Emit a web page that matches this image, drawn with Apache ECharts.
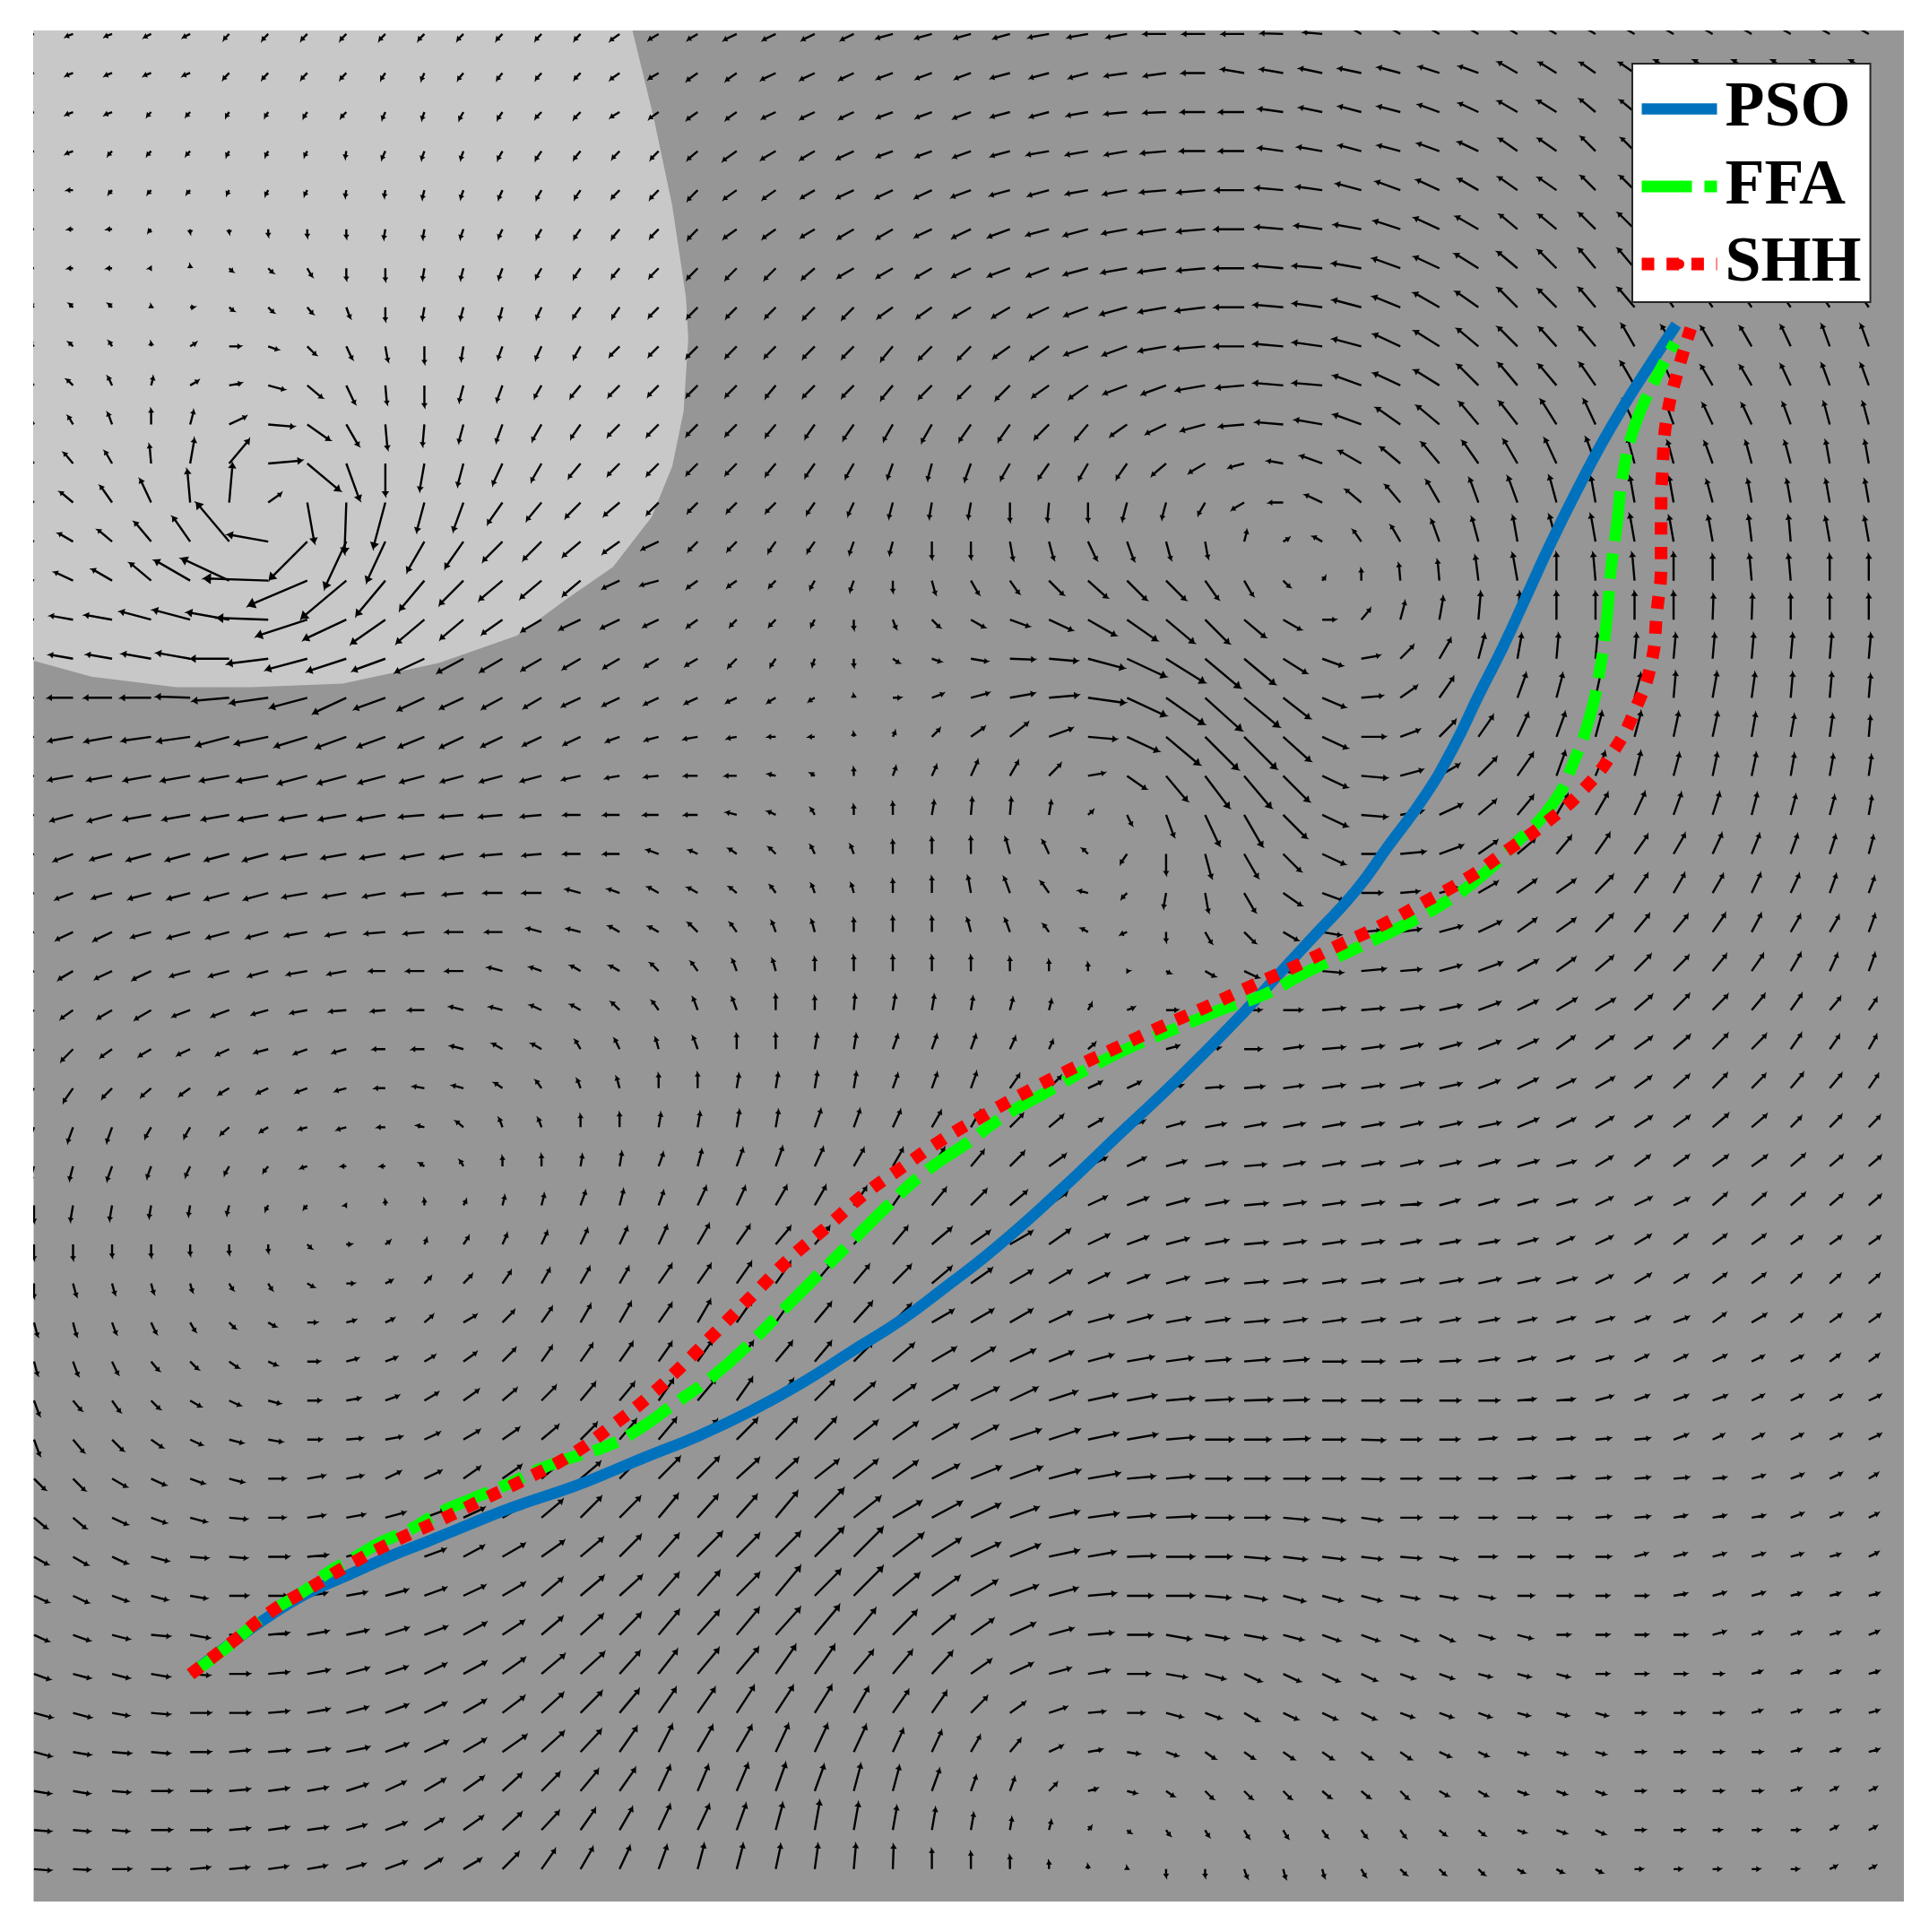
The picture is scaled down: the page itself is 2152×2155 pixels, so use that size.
<!DOCTYPE html>
<html>
<head>
<meta charset="utf-8">
<title>PSO FFA SHH</title>
<script src="https://cdn.jsdelivr.net/npm/echarts@6/dist/echarts.min.js"></script>
<style>html,body{margin:0;padding:0;background:#fff}</style>
</head>
<body>
<div id="main" style="width:2152px;height:2155px"></div>
<script>
// arrow direction in degrees (0 = right, 90 = up), one row per grid row, top row first
const arrowAngle = [
[200,200,200,205,205,225,225,225,225,225,225,225,225,225,225,215,210,210,205,205,205,205,195,195,195,195,190,190,190,180,180,180,178,175,150,150,150,150,150,150,150,150,150,150,150,150,150,150],
[200,200,200,200,200,225,225,225,225,235,245,230,230,228,225,215,210,215,215,205,205,205,200,200,200,195,195,195,188,188,180,170,170,168,168,165,162,160,150,148,145,145,145,145,145,145,145,145],
[200,200,200,225,225,235,235,235,225,245,250,240,235,225,225,210,215,215,215,205,205,205,200,200,200,195,195,190,185,182,180,180,172,168,165,165,160,155,150,148,140,140,135,135,135,135,135,135],
[200,200,225,225,225,240,240,240,260,245,250,250,240,235,230,225,225,220,215,210,210,205,200,200,200,195,190,190,190,185,180,180,172,170,165,165,160,155,145,145,135,135,135,135,135,135,135,135],
[180,180,225,225,225,240,240,240,260,260,255,250,245,240,235,225,225,225,215,215,210,205,205,205,200,195,195,190,190,185,185,180,175,172,165,160,155,150,145,145,135,135,135,135,135,135,135,135],
[180,180,180,225,270,270,270,270,270,260,260,250,245,240,235,230,225,225,215,215,210,210,210,205,205,200,195,195,190,188,185,180,175,172,170,162,155,150,140,140,135,135,130,130,130,130,130,130],
[180,180,180,180,90,315,315,300,270,270,260,255,250,240,235,230,225,225,225,225,220,210,210,210,205,200,200,195,190,188,185,180,175,175,170,160,155,148,140,135,130,130,125,125,125,125,125,125],
[135,135,135,90,0,320,315,310,290,270,260,255,255,245,235,235,225,225,225,225,225,225,215,215,210,210,205,200,195,190,187,180,175,172,165,158,150,145,135,135,130,130,125,125,125,125,125,125],
[135,135,120,90,30,0,340,315,295,280,270,260,250,245,240,225,225,225,225,225,225,225,230,225,225,215,215,200,200,190,185,180,175,172,165,155,148,140,135,132,130,120,120,120,120,115,110,110],
[135,135,115,75,30,10,345,320,295,275,270,255,250,240,230,225,225,225,225,230,225,225,230,225,225,225,215,215,200,200,190,185,175,175,160,155,148,135,130,130,125,120,115,120,120,115,110,110],
[120,120,110,90,75,25,355,325,300,275,265,255,250,240,235,225,225,225,225,230,235,235,240,240,235,235,225,230,215,205,195,185,175,170,160,145,140,130,128,122,115,115,110,115,115,110,105,105],
[130,130,120,95,80,50,5,320,290,270,260,255,245,240,230,225,225,225,225,230,235,240,250,255,250,240,235,240,235,220,210,195,170,160,150,140,130,125,120,115,110,105,105,110,105,105,100,100],
[140,140,125,115,95,85,35,280,268,255,255,250,235,230,225,220,225,225,225,225,235,245,255,260,260,270,265,270,255,255,240,210,180,155,140,130,120,110,110,105,100,100,100,105,100,100,100,100],
[150,150,140,130,125,130,170,225,245,245,240,235,225,225,220,215,205,225,225,235,235,250,255,270,270,280,285,295,290,285,280,75,30,150,125,120,110,105,100,105,100,100,100,100,97,95,100,100],
[155,155,150,140,150,155,178,203,220,230,230,225,220,220,220,205,195,215,215,225,240,250,270,285,300,305,315,318,315,315,305,300,315,50,90,95,95,97,100,90,95,95,90,90,95,95,90,90],
[170,170,170,165,165,170,178,198,205,215,220,220,215,210,205,205,205,215,225,225,240,270,290,315,330,340,335,330,325,320,315,320,330,0,50,75,80,85,85,90,90,90,90,88,88,90,90,90],
[170,170,170,170,170,180,187,195,198,200,205,208,210,210,210,210,210,210,225,235,250,270,325,340,350,358,355,345,335,328,320,320,328,340,10,45,60,75,80,85,85,85,85,85,85,85,85,85],
[180,180,180,180,178,185,188,195,205,200,205,205,208,210,205,205,205,205,205,210,210,90,0,20,15,10,5,352,335,325,318,320,322,337,5,35,55,65,70,75,78,75,85,80,82,85,85,85],
[190,190,190,188,188,195,192,197,200,200,202,205,205,205,205,200,195,190,190,180,180,90,65,45,35,38,20,355,335,320,315,315,318,335,0,20,45,55,65,70,75,75,78,78,80,80,82,85],
[190,190,190,190,190,190,190,195,195,195,195,195,195,195,192,190,185,180,180,165,145,90,70,65,65,60,45,10,325,310,307,310,315,335,355,15,30,45,55,70,68,75,75,78,78,80,80,82],
[195,195,195,190,190,190,190,190,190,190,185,185,185,185,180,180,180,180,165,155,120,90,90,80,85,85,80,40,295,290,295,300,315,335,355,10,25,40,50,60,60,65,70,72,75,75,75,80],
[200,200,195,195,195,195,195,190,190,190,190,190,185,185,180,180,160,155,145,135,115,110,90,90,90,105,115,135,235,270,285,300,315,335,0,5,20,35,40,50,55,55,60,65,68,70,72,75],
[200,200,195,195,195,195,195,190,190,190,185,185,180,180,165,160,150,150,140,125,110,105,90,90,100,110,125,165,225,260,280,300,325,340,0,5,15,30,35,35,45,55,60,60,65,65,70,70],
[205,205,205,195,195,195,195,190,190,185,185,180,180,165,165,150,150,135,125,110,105,90,90,90,105,110,125,150,200,270,300,315,330,350,5,8,15,25,35,35,45,50,50,55,62,60,60,70],
[210,210,205,205,195,195,195,190,190,180,180,180,165,160,150,150,135,125,110,105,90,90,90,90,90,90,90,90,0,330,330,335,350,355,5,5,15,20,28,35,40,45,45,50,55,60,65,70],
[215,215,210,210,200,200,195,190,185,185,180,165,165,155,150,135,125,110,110,90,90,85,80,80,80,75,75,60,20,0,0,0,0,5,5,7,12,20,25,30,30,40,45,45,50,55,50,55],
[225,225,215,210,205,205,195,200,195,180,180,165,150,150,120,115,105,110,90,90,80,80,70,70,70,65,65,40,25,15,5,0,8,5,8,12,15,20,25,35,35,35,40,45,45,55,55,60],
[235,235,225,220,215,210,205,200,195,180,170,165,145,125,110,105,90,90,80,80,80,80,70,70,70,55,45,25,25,10,5,5,8,8,8,12,12,20,25,25,30,35,40,45,45,50,50,55],
[250,250,250,240,240,220,210,195,195,180,165,140,110,110,90,90,80,80,80,80,70,70,65,60,60,45,40,30,20,15,10,10,10,10,10,12,12,12,22,25,30,32,35,40,40,45,45,45],
[255,255,250,250,245,240,230,195,180,180,145,120,90,90,80,80,70,75,70,70,65,60,60,55,50,45,35,25,25,15,10,5,10,10,10,12,12,15,15,15,30,35,35,35,35,40,40,40],
[270,260,260,260,260,255,240,225,180,90,90,60,75,75,70,75,70,65,65,60,60,55,55,50,45,40,35,25,20,15,10,5,8,8,8,5,15,15,15,15,25,25,25,40,40,40,40,40],
[270,270,270,270,270,270,270,315,0,35,65,55,65,65,65,65,65,60,55,50,50,50,50,40,35,30,35,25,20,15,10,5,8,8,8,10,10,10,15,22,25,30,35,35,35,35,35,35],
[270,285,285,285,285,300,300,330,0,25,45,45,55,60,60,60,55,55,55,55,50,50,45,40,35,30,30,25,20,15,10,5,8,8,8,10,10,12,12,15,25,30,30,35,35,40,40,40],
[285,285,290,295,300,315,330,0,15,25,40,30,45,55,60,60,55,60,55,55,50,48,45,30,30,30,25,15,15,10,8,5,8,8,8,10,10,10,12,15,15,20,20,35,30,35,35,35],
[285,290,295,310,315,325,335,0,15,20,30,35,45,55,55,55,55,55,50,50,50,45,40,30,30,25,22,15,10,8,5,5,5,0,0,3,3,8,12,15,15,25,25,25,25,25,35,35],
[290,310,305,315,330,335,345,0,10,20,30,35,40,45,50,50,55,50,55,50,45,40,35,30,25,25,18,12,10,5,3,2,2,0,0,0,0,0,5,5,15,20,20,20,25,25,25,25],
[290,310,315,325,335,345,350,0,5,10,25,30,35,40,45,50,50,45,45,45,45,38,35,30,27,18,18,12,10,5,0,0,2,0,358,0,0,5,5,5,5,5,20,25,25,25,25,25],
[315,315,330,335,340,345,0,10,10,25,25,35,35,40,40,45,45,45,42,42,38,38,35,27,22,20,15,10,5,5,0,0,0,0,358,0,0,0,5,5,5,5,5,5,15,20,25,30],
[320,320,335,340,345,355,0,8,10,15,20,25,30,40,45,45,50,48,48,50,45,38,30,28,25,20,12,8,5,3,0,0,355,352,352,0,0,0,0,0,5,5,10,10,10,20,20,25],
[330,330,335,345,355,355,0,5,15,15,20,28,30,35,40,45,48,45,45,45,45,45,37,32,25,22,12,10,2,0,0,355,353,353,353,355,350,0,0,0,0,15,15,15,15,15,15,25],
[335,335,340,345,350,0,0,8,10,15,20,25,30,40,40,42,48,48,45,50,45,45,40,35,30,20,15,5,0,0,355,350,345,345,345,350,350,350,0,0,0,0,10,15,15,15,15,15],
[335,340,345,355,350,0,5,10,12,17,20,28,33,40,42,45,50,48,50,48,50,50,45,40,35,25,15,5,0,350,350,350,345,340,340,340,335,345,345,0,0,0,0,15,15,15,15,20],
[340,345,345,350,355,0,5,10,15,18,25,28,35,40,42,48,52,50,50,55,55,50,50,47,35,25,15,10,0,350,345,335,335,335,335,340,340,345,345,345,0,0,0,0,15,15,15,15],
[345,345,350,355,0,0,5,10,15,20,25,30,37,42,45,50,55,55,57,57,58,60,55,55,45,35,18,5,0,345,340,330,335,335,335,340,340,340,345,345,345,0,0,0,15,15,15,15],
[345,350,355,355,0,5,5,8,12,20,25,30,35,42,47,55,63,60,60,65,65,65,65,65,60,50,25,10,350,340,325,325,325,325,325,325,335,335,345,345,345,0,0,0,0,15,15,15],
[350,350,355,0,0,5,8,10,18,25,30,35,42,45,50,55,65,67,67,70,70,75,75,70,70,70,45,15,345,325,315,315,315,320,320,315,330,330,340,340,340,0,0,0,0,15,25,25],
[355,355,355,0,0,5,8,8,15,20,30,35,42,47,55,60,65,65,70,75,80,80,80,80,80,80,75,45,320,305,300,300,300,305,305,305,320,320,340,340,335,0,0,0,0,0,25,25],
[355,357,0,0,5,5,8,10,15,20,30,30,45,55,60,65,70,75,75,78,82,85,88,90,90,90,90,90,90,270,270,290,285,285,300,315,315,315,330,330,330,0,0,0,0,0,25,25]
];
// arrow length, same layout
const arrowLength = [
[8,8,8,8,8,8,9,9,9,9,9,9,9,9,9,12,12,12,15,15,15,15,18,18,18,18,22,22,22,24,24,24,24,20,20,20,20,20,20,20,20,20,20,20,20,20,20,20],
[8,8,8,8,8,9,9,9,9,8,8,9,9,9,9,12,12,14,14,17,17,17,18,18,18,21,21,21,24,24,25,25,25,25,25,25,23,22,24,22,20,20,25,25,25,25,25,25],
[8,8,8,6,6,6,6,7,8,8,8,9,9,9,10,11,12,14,14,16,17,17,18,18,20,21,21,23,24,24,26,27,27,25,25,25,24,23,24,24,22,20,25,25,25,25,25,25],
[8,8,6,6,6,6,6,6,7,9,9,9,10,11,11,11,12,14,18,18,18,20,18,18,20,21,24,24,24,27,27,27,27,27,25,25,25,24,24,24,22,20,25,25,25,25,25,25],
[6,6,5,5,5,5,6,6,7,7,9,9,10,11,11,12,13,15,17,17,17,20,20,20,22,22,23,24,26,28,30,31,30,28,28,28,27,25,25,24,22,22,25,25,25,25,25,25],
[5,5,5,4,4,4,7,8,9,10,10,10,10,11,12,13,13,15,17,17,17,20,20,20,22,25,25,27,27,30,30,32,30,30,30,30,30,28,25,25,25,25,25,25,25,25,25,25],
[5,5,5,2,3,5,7,10,12,13,12,12,12,12,13,13,14,16,17,17,18,20,20,20,22,25,25,27,28,30,30,32,32,32,32,32,30,30,28,28,28,28,25,25,25,25,25,25],
[5,5,5,2,4,6,8,9,12,14,13,13,13,13,14,14,15,16,16,16,18,18,20,20,22,22,25,27,30,30,32,32,32,32,32,32,32,30,30,28,28,28,25,25,25,25,25,25],
[6,6,6,4,7,12,11,13,15,16,18,15,14,15,15,15,15,17,17,17,18,18,20,20,20,22,25,27,28,30,33,32,32,32,32,32,32,30,30,28,28,28,26,25,25,25,25,25],
[9,9,10,9,10,13,18,21,22,20,23,18,18,15,17,17,16,17,17,17,18,18,20,20,20,22,22,25,27,28,32,30,32,32,32,32,32,32,32,30,30,30,28,25,25,25,25,25],
[10,10,13,16,15,20,28,30,27,27,23,20,20,20,18,18,18,17,17,17,18,20,20,22,22,22,22,22,22,24,27,27,30,30,32,32,32,32,32,32,30,30,25,25,25,25,25,25],
[15,15,15,20,27,34,37,47,43,35,30,25,25,22,20,18,18,17,17,17,18,18,17,18,20,20,20,20,20,20,20,17,17,25,28,28,30,30,30,30,30,28,25,25,25,25,25,25],
[18,18,22,28,36,43,17,45,56,52,33,33,28,25,23,22,18,15,15,15,15,15,17,17,17,20,20,20,20,18,15,15,15,20,22,25,28,28,30,30,28,28,28,25,25,25,25,25],
[18,18,20,28,33,56,45,59,57,49,38,35,30,28,25,22,20,14,14,14,14,14,14,18,18,20,20,22,22,20,18,12,7,11,15,20,25,27,28,30,30,30,28,28,28,28,27,27],
[22,22,25,30,45,58,71,71,65,50,42,37,33,30,25,20,20,14,12,10,10,12,12,15,17,17,22,28,30,30,25,19,10,5,12,18,22,27,30,30,30,30,30,28,28,28,28,28],
[25,25,30,35,42,47,56,59,52,46,40,33,27,25,25,22,18,14,10,10,8,10,10,12,17,22,28,35,40,40,37,30,22,14,15,20,25,30,30,30,30,30,30,27,27,27,27,27],
[26,26,28,32,37,42,45,47,45,38,35,32,28,25,22,20,17,15,13,10,8,8,8,10,18,27,31,41,47,50,50,44,30,23,20,20,25,27,27,27,27,27,27,27,27,27,27,27],
[27,27,30,33,37,40,42,42,40,36,32,28,25,22,22,20,17,15,12,10,7,3,8,13,20,27,32,41,47,51,54,50,37,27,23,22,27,28,28,27,28,27,28,28,27,27,27,25],
[27,27,30,32,36,37,37,37,35,32,30,28,25,22,20,15,15,15,10,8,6,4,6,12,18,25,27,31,38,48,51,50,40,30,26,22,25,28,28,28,28,28,27,27,26,24,24,22],
[27,27,27,30,32,32,34,33,32,30,27,25,25,23,20,15,15,14,12,8,5,8,10,12,18,18,18,18,25,36,44,46,40,30,28,25,25,28,30,28,28,27,25,25,25,24,23,22],
[25,25,27,30,30,30,32,30,30,30,27,25,25,22,18,17,16,14,11,9,8,10,13,15,18,18,15,7,12,25,37,40,36,30,28,25,27,25,27,25,27,27,25,25,24,22,21,20],
[22,22,24,27,27,27,28,28,27,27,25,25,23,20,18,17,13,10,10,10,10,10,14,17,18,18,16,8,12,22,27,30,27,27,25,27,27,25,25,25,27,25,25,24,23,22,21,20],
[20,20,22,25,25,27,27,27,25,24,24,22,20,20,16,13,13,12,10,10,10,10,14,17,18,18,15,10,8,16,21,24,24,24,22,20,22,24,25,25,27,25,24,23,23,22,21,18],
[20,20,22,22,25,25,24,24,22,22,22,19,18,16,15,13,12,14,12,12,13,14,16,16,15,15,10,8,7,10,14,17,18,20,20,22,25,27,25,25,27,25,24,24,22,21,20,20],
[18,18,20,22,22,22,22,22,20,17,19,19,16,13,12,12,12,12,13,13,14,16,16,16,16,14,11,8,2,5,12,17,20,22,26,22,24,27,25,25,25,25,23,23,22,22,20,20],
[16,16,18,20,20,20,18,18,18,15,17,15,14,13,12,12,12,14,14,16,14,16,16,16,14,13,11,8,8,12,15,18,20,24,24,25,24,25,24,25,24,25,24,23,22,21,18,15],
[18,18,15,15,15,15,15,15,15,13,13,14,12,12,11,12,12,14,16,16,16,16,16,16,16,14,10,10,12,14,16,18,21,24,24,24,24,25,24,24,24,23,23,23,22,20,18,17],
[18,18,15,14,14,13,13,13,12,11,12,12,10,10,10,12,15,16,15,16,17,17,16,17,18,18,18,16,16,18,19,21,21,24,24,25,24,24,24,22,23,22,22,22,21,21,20,18],
[17,17,17,13,13,12,10,9,10,8,8,10,10,10,13,15,15,16,18,18,20,20,20,20,20,20,20,18,20,20,22,23,23,24,24,24,24,24,24,22,22,22,21,22,21,16,18,17],
[15,15,16,13,12,10,8,7,5,5,6,7,10,12,12,15,15,18,20,22,22,22,22,24,22,22,22,22,22,22,23,23,23,24,24,24,23,23,23,21,21,20,20,20,20,20,18,17],
[18,17,16,13,11,10,6,5,2,5,6,6,10,12,16,17,16,22,22,24,24,24,24,24,24,24,24,22,24,25,25,25,24,24,24,22,22,22,22,22,20,20,18,20,20,20,18,17],
[16,16,13,13,11,10,8,6,5,6,6,10,12,15,18,20,22,25,25,25,25,25,25,28,25,28,28,25,24,25,25,25,24,24,24,22,22,22,22,20,20,20,18,18,18,15,15,15],
[15,14,12,11,9,8,8,8,8,8,10,13,16,18,20,20,25,25,28,28,28,26,28,28,28,28,28,25,25,25,25,25,25,25,25,25,25,24,24,22,20,20,18,18,18,15,15,15],
[15,15,13,13,11,9,9,10,10,10,12,16,18,20,22,25,25,28,28,28,28,30,28,27,28,28,27,28,28,26,26,26,25,25,25,22,22,22,20,20,20,17,17,17,18,15,15,15],
[15,16,15,13,12,12,10,13,13,13,13,17,20,20,23,25,25,27,28,28,28,28,30,30,30,30,28,28,29,29,27,27,27,25,24,22,22,22,19,19,19,16,16,16,14,14,13,13],
[17,14,15,13,13,13,13,14,15,15,17,20,20,22,25,25,28,30,30,30,30,30,30,33,33,33,32,32,32,30,30,30,27,24,24,22,22,22,19,19,19,16,16,16,14,14,14,14],
[18,18,17,15,14,15,15,15,17,18,18,20,22,24,25,28,30,30,32,33,33,33,33,33,33,35,35,33,33,30,30,28,28,24,25,22,21,19,19,19,16,16,16,13,14,14,14,14],
[17,18,18,17,16,16,18,19,18,18,20,22,25,27,28,30,33,33,33,33,33,33,33,33,35,37,35,35,30,30,28,27,28,24,24,22,22,19,19,19,16,16,16,14,14,14,14,11],
[18,18,18,17,18,19,18,19,20,22,23,25,27,30,32,32,33,33,33,37,45,37,36,37,35,33,33,33,30,32,30,27,27,24,22,22,19,19,19,16,16,16,14,14,14,14,14,11],
[17,18,18,19,19,19,22,22,22,22,24,25,28,30,32,33,33,38,35,38,45,45,42,37,35,35,33,30,30,30,28,27,25,24,22,22,19,19,17,17,16,14,14,14,14,13,11,11],
[17,18,18,18,18,20,20,21,22,25,25,26,28,30,33,33,33,36,35,42,40,45,38,37,33,32,32,30,27,30,27,24,24,22,22,20,19,17,17,17,14,14,14,14,14,11,11,11],
[17,19,19,20,21,21,22,23,24,26,26,28,28,30,33,33,35,35,38,40,42,37,37,33,30,30,27,27,27,27,25,24,22,20,20,20,17,17,16,14,14,14,14,14,11,11,11,11],
[18,19,19,20,21,22,22,24,25,25,26,28,30,33,35,33,33,36,37,38,38,33,33,33,27,27,24,23,24,22,22,20,20,20,18,16,16,14,14,14,14,14,14,11,11,11,11,11],
[20,20,18,20,22,22,22,24,24,26,26,28,30,32,33,33,33,33,35,35,35,32,30,28,25,20,20,18,18,18,18,18,17,17,17,15,15,14,13,13,13,11,11,11,11,11,11,11],
[19,19,20,20,22,22,23,24,25,26,28,28,32,33,33,33,33,33,33,33,33,32,27,25,20,18,16,15,13,13,13,13,14,14,14,14,13,11,11,11,11,11,11,11,11,11,11,11],
[18,18,19,22,22,22,22,22,24,24,26,27,28,28,30,30,30,30,32,32,30,30,28,25,17,15,12,10,10,10,12,12,12,12,12,12,11,11,11,11,11,11,11,11,11,11,9,9],
[18,18,18,22,22,22,22,22,22,24,24,26,28,28,28,28,30,30,30,30,32,30,26,24,18,13,10,5,5,7,8,10,10,10,10,10,9,9,9,11,11,11,11,9,9,9,9,9],
[18,18,20,20,21,21,21,21,21,24,22,22,25,26,27,27,27,28,28,27,27,27,26,21,18,14,8,4,2,8,8,10,10,9,9,9,9,9,8,8,8,8,8,8,8,8,8,8]
];
const lightRegion = [[15.33,-0.09],[15.88,2.17],[16.35,4.4],[16.7,6.74],[16.76,7.8],[16.64,9.67],[16.35,11.07],[15.82,12.37],[14.83,13.65],[13.65,14.47],[12.37,15.41],[10.37,16.11],[7.91,16.64],[5.57,16.73],[3.64,16.73],[1.47,16.46],[-0.01,16.05],[-0.01,-0.09]];
const psoPath = [[4.01,42.01],[5.07,41.2],[5.91,40.6],[6.97,39.95],[8.02,39.48],[9.07,39.01],[10.13,38.59],[11.18,38.16],[12.24,37.74],[13.82,37.2],[14.87,36.78],[15.66,36.45],[17.03,35.9],[18.4,35.25],[19.67,34.55],[20.93,33.75],[22.2,32.95],[23.25,32.17],[24.62,31.1],[26.2,29.7],[27.78,28.2],[29.37,26.7],[30.95,25.1],[32.19,23.75],[32.79,23.1],[33.85,21.95],[34.69,20.8],[35.64,19.5],[36.37,18.25],[37.0,16.95],[37.63,15.7],[38.23,14.4],[38.85,13.05],[39.57,11.6],[40.18,10.45],[40.8,9.4],[41.42,8.43],[42.07,7.44]];
const ffaPath = [[4.01,42.01],[4.86,41.38],[6.02,40.44],[6.97,39.85],[7.49,39.43],[8.23,39.01],[8.86,38.64],[9.6,38.32],[10.33,37.9],[11.18,37.53],[12.12,37.15],[12.87,36.79],[13.71,36.48],[14.56,36.21],[15.4,35.79],[16.37,35.11],[17.4,34.37],[18.34,33.53],[19.24,32.63],[20.14,31.73],[21.03,30.84],[21.88,30.0],[22.82,29.15],[23.88,28.42],[24.83,27.73],[25.94,27.1],[27.05,26.47],[28.11,25.94],[29.37,25.42],[30.42,24.98],[31.47,24.62],[32.67,23.99],[33.89,23.41],[34.99,22.88],[36.05,22.3],[37.01,21.62],[37.96,20.72],[38.9,19.72],[39.43,18.67],[39.85,17.5],[40.11,16.29],[40.29,14.97],[40.39,13.77],[40.55,12.55],[40.7,11.29],[41.01,10.02],[41.47,8.97],[42.03,7.91]];
const shhPath = [[4.01,42.01],[5.07,41.19],[6.02,40.44],[7.09,39.79],[8.17,39.15],[9.28,38.58],[10.41,38.06],[11.55,37.51],[12.65,36.98],[13.79,36.37],[14.8,35.65],[15.77,34.88],[16.69,34.02],[17.58,33.13],[18.45,32.26],[19.35,31.37],[20.3,30.56],[21.24,29.74],[22.25,29.02],[23.28,28.31],[24.36,27.68],[25.47,27.07],[26.59,26.5],[27.71,25.97],[28.84,25.44],[29.98,24.94],[31.12,24.41],[32.26,23.9],[33.4,23.35],[34.53,22.82],[35.64,22.22],[36.72,21.62],[37.74,20.91],[38.74,20.19],[39.69,19.35],[40.46,18.37],[41.03,17.27],[41.43,16.1],[41.57,14.82],[41.68,13.57],[41.68,12.32],[41.72,11.08],[41.83,9.81],[42.11,8.63],[42.44,7.54]];

const cellPx = 43.55; // one grid cell on screen, arrow lengths are given in the same size

const arrowData = [];
arrowAngle.forEach((row, r) => {
  row.forEach((deg, c) => {
    const len = arrowLength[r][c] / cellPx;
    const rad = deg * Math.PI / 180;
    arrowData.push([c, r, Math.cos(rad) * len, -Math.sin(rad) * len]);
  });
});

const myChart = echarts.init(document.getElementById("main"));

const renderRegion = (params, api) => {
  const points = lightRegion.map((p) => api.coord(p));
  return { type: "polygon", shape: { points: points }, style: { fill: "#c8c8c8" } };
};

const renderArrow = (params, api) => {
  const tail = api.coord([api.value(0), api.value(1)]);
  const tip = api.coord([api.value(0) + api.value(2), api.value(1) + api.value(3)]);
  const dx = tip[0] - tail[0];
  const dy = tip[1] - tail[1];
  const len = Math.sqrt(dx * dx + dy * dy);
  const a = Math.atan2(dy, dx);
  const barb = Math.max(2, len * 0.1);
  const b1 = [tip[0] - barb * Math.cos(a - 0.6), tip[1] - barb * Math.sin(a - 0.6)];
  const b2 = [tip[0] - barb * Math.cos(a + 0.6), tip[1] - barb * Math.sin(a + 0.6)];
  return {
    type: "polyline",
    shape: { points: [tail, tip, b1, b2, tip] },
    style: { stroke: "#000", lineWidth: 2.4, fill: null },
  };
};

const option = {
  animation: false,
  backgroundColor: "#fff",
  grid: { left: 37.5, top: 34, width: 2086.5, height: 2087, show: true, backgroundColor: "#969696", borderWidth: 0 },
  xAxis: { type: "value", min: -0.01, max: 47.9, show: false },
  yAxis: { type: "value", min: -0.09, max: 47.83, inverse: true, show: false },
  legend: {
    left: 1821,
    top: 71,
    orient: "vertical",
    z: 20,
    padding: [14, 10, 6, 3.5],
    backgroundColor: "#fff",
    borderColor: "#262626",
    borderWidth: 2,
    itemWidth: 84,
    itemHeight: 14,
    itemGap: 13.5,
    lineStyle: { width: "inherit", type: "inherit", cap: "inherit" },
    textStyle: { fontFamily: "Liberation Serif", fontWeight: "bold", fontSize: 72, lineHeight: 70, color: "#000", padding: [3, 0, 0, 4] },
    data: ["PSO", "FFA", "SHH"],
  },
  series: [
    { type: "custom", silent: true, z: 1, clip: true, renderItem: renderRegion, data: [0] },
    {
      type: "custom",
      silent: true,
      z: 2,
      clip: true,
      progressive: 0,
      renderItem: renderArrow,
      encode: { x: 0, y: 1 },
      data: arrowData,
    },
    {
      name: "PSO",
      type: "line",
      z: 3,
      data: psoPath,
      smooth: 0.5,
      symbol: "none",
      itemStyle: { color: "#0072bd" },
      lineStyle: { color: "#0072bd", width: 12.5, cap: "butt" },
    },
    {
      name: "FFA",
      type: "line",
      z: 4,
      data: ffaPath,
      smooth: 0.5,
      symbol: "none",
      itemStyle: { color: "#00ff00" },
      lineStyle: { color: "#00ff00", width: 13, type: [56, 14, 28, 14], cap: "butt" },
    },
    {
      name: "SHH",
      type: "line",
      z: 5,
      data: shhPath,
      smooth: 0.5,
      symbol: "none",
      itemStyle: { color: "#ff0000" },
      lineStyle: { color: "#ff0000", width: 14, type: [14, 13.7], cap: "butt" },
    },
  ],
};

option && myChart.setOption(option);
</script>
</body>
</html>
